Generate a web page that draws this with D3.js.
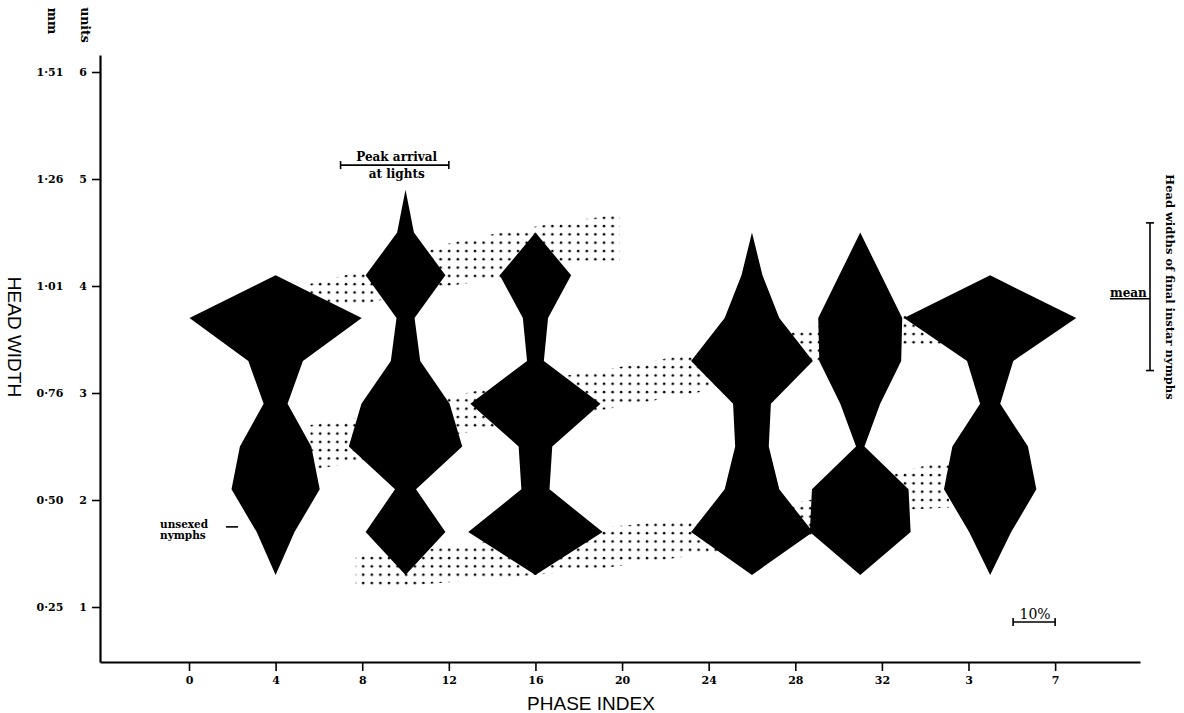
<!DOCTYPE html>
<html>
<head>
<meta charset="utf-8">
<script src="https://cdn.jsdelivr.net/npm/d3@7"></script>
<style>
  body { margin: 0; background: #fff; }
  svg { display: block; }
  .serif { font-family: "DejaVu Serif", serif; font-weight: bold; }
  .sans { font-family: "Liberation Sans", Arial, sans-serif; }
</style>
</head>
<body>
<script>
// head width classes (in units) used by every kite, bottom to top
const classUnits = [1.3, 1.7, 2.1, 2.5, 2.9, 3.3, 3.7, 4.1, 4.5, 4.9];

// phase index position of each sample (37 = phase 4 of the next cycle)
const kitePhases = [4, 10, 16, 26, 31, 37];

// % of sample in each class, null where the kite does not reach
const kite1 = [0, 9, 21, 17, 5.7, 13, 41, 0, null, null];
const kite2 = [0, 19, 5, 27, 21, 7, 4.3, 19, 4, 0];
const kite3 = [0, 32, 6.7, 8, 31, 4, 6, 17, 0, null];
const kite4 = [0, 29, 13, 8, 9, 29, 13, 5, 0, null];
const kite5 = [0, 24, 23, 2, 9.5, 19.5, 20, 10, 0, null];
const kite6 = [0, 10, 22, 18, 4.8, 11, 41, 0, null, null];
const kites = [kite1, kite2, kite3, kite4, kite5, kite6];

// stippled instar bands: [phase, lower unit, upper unit]
const bandUpper = [[5.6, 3.84, 4.02], [8.2, 3.84, 4.15], [11.6, 3.99, 4.38], [14.4, 4.07, 4.50], [17.0, 4.21, 4.59], [19.9, 4.22, 4.67]];
const bandMiddle = [[5.6, 2.28, 2.70], [7.9, 2.36, 2.77], [12.3, 2.61, 2.98], [15.3, 2.73, 3.10], [19.0, 2.84, 3.21], [23.6, 3.01, 3.38], [28.7, 3.26, 3.61], [33.1, 3.45, 3.76], [34.9, 3.45, 3.79]];
const bandLower = [[7.7, 1.16, 1.49], [10.7, 1.21, 1.53], [14.4, 1.27, 1.63], [19.0, 1.36, 1.74], [23.6, 1.49, 1.83], [28.7, 1.67, 2.00], [33.1, 1.91, 2.28], [35.1, 1.93, 2.37]];

// axes
const xTickPos = [0, 4, 8, 12, 16, 20, 24, 28, 32, 36, 40];
const xTickLabels = ["0", "4", "8", "12", "16", "20", "24", "28", "32", "3", "7"];
const yUnits = [1, 2, 3, 4, 5, 6];
const yMm = ["0·25", "0·50", "0·76", "1·01", "1·26", "1·51"];

// annotations
const peakArrival = [7, 12];
const peakLevel = 5.13;
const finalInstar = { lo: 3.21, mean: 3.90, hi: 4.59 };
const unsexedLevel = 1.73;
const scaleBarPct = 10;

const width = 1184, height = 713;

const svg = d3.select("body").append("svg")
    .attr("width", width)
    .attr("height", height);

const x = d3.scaleLinear().domain([-4.11, 43.92]).range([100, 1140]);
const y = d3.scaleLinear().domain([0.486, 6.159]).range([662, 55]);
const w = d3.scaleLinear().domain([0, 10]).range([0, 42]); // full kite width

// dot pattern for the bands
const pat = svg.append("defs").append("pattern")
    .attr("id", "dots")
    .attr("patternUnits", "userSpaceOnUse")
    .attr("width", 8.6)
    .attr("height", 8.3);
pat.append("circle").attr("cx", 2).attr("cy", 2).attr("r", 1.3).attr("fill", "#000");

const band = d3.area()
    .x(d => x(d[0]))
    .y0(d => y(d[1]))
    .y1(d => y(d[2]));

svg.append("g")
    .selectAll("path")
    .data([bandUpper, bandMiddle, bandLower])
    .enter().append("path")
    .attr("d", band)
    .attr("fill", "url(#dots)");

// kites
kites.forEach((k, i) => {
    const cx = x(kitePhases[i]);
    const pts = k.map((p, j) => ({ u: classUnits[j], p: p })).filter(d => d.p !== null);
    const area = d3.area()
        .y(d => y(d.u))
        .x0(d => cx - w(d.p) / 2)
        .x1(d => cx + w(d.p) / 2);
    svg.append("path")
        .attr("d", area(pts))
        .attr("fill", "#000");
});

// x axis
const xAxis = svg.append("g")
    .attr("transform", `translate(0,${y.range()[0]})`)
    .call(d3.axisBottom(x)
        .tickValues(xTickPos)
        .tickFormat((d, i) => xTickLabels[i])
        .tickSize(9)
        .tickSizeOuter(0)
        .tickPadding(5));

// y axis (units)
const yAxis = svg.append("g")
    .attr("transform", `translate(${x.range()[0]},0)`)
    .call(d3.axisLeft(y)
        .tickValues(yUnits)
        .tickFormat(d3.format("d"))
        .tickSize(8)
        .tickSizeOuter(0)
        .tickPadding(5));

[xAxis, yAxis].forEach(g => {
    g.select(".domain").attr("stroke-width", 2.2).attr("stroke", "#000");
    g.selectAll(".tick line").attr("stroke-width", 1.6).attr("stroke", "#000");
    g.selectAll(".tick text")
        .attr("class", "serif")
        .attr("font-size", 11)
        .attr("fill", "#000");
});

// mm labels
svg.append("g")
    .selectAll("text")
    .data(yUnits)
    .enter().append("text")
    .attr("class", "serif")
    .attr("x", 50)
    .attr("y", d => y(d))
    .attr("dy", "0.35em")
    .attr("text-anchor", "middle")
    .attr("font-size", 11)
    .text((d, i) => yMm[i]);

// column headers
[["mm", 52, 21], ["units", 85, 25]].forEach(([t, px, py]) => {
    svg.append("text")
        .attr("class", "serif")
        .attr("font-size", 12.5)
        .attr("text-anchor", "middle")
        .attr("transform", `translate(${px},${py}) rotate(90)`)
        .attr("dy", "0.35em")
        .text(t);
});

// axis titles
svg.append("text")
    .attr("class", "sans")
    .attr("font-size", 19)
    .attr("text-anchor", "middle")
    .attr("transform", `translate(15,337) rotate(90)`)
    .attr("dy", "0.35em")
    .text("HEAD WIDTH");

svg.append("text")
    .attr("class", "sans")
    .attr("font-size", 19)
    .attr("text-anchor", "middle")
    .attr("x", 591)
    .attr("y", 710)
    .text("PHASE INDEX");

// bar with end caps
function hbar(x0, x1, yy, cap) {
    svg.append("line").attr("x1", x0).attr("x2", x1).attr("y1", yy).attr("y2", yy)
        .attr("stroke", "#000").attr("stroke-width", 1.6);
    [x0, x1].forEach(xx => svg.append("line")
        .attr("x1", xx).attr("x2", xx).attr("y1", yy - cap).attr("y2", yy + cap)
        .attr("stroke", "#000").attr("stroke-width", 1.6));
}

// peak arrival
const pY = y(peakLevel);
const pMid = (x(peakArrival[0]) + x(peakArrival[1])) / 2 + 2;
hbar(x(peakArrival[0]), x(peakArrival[1]), pY, 4);
svg.append("text").attr("class", "serif").attr("font-size", 12)
    .attr("text-anchor", "middle")
    .attr("x", pMid).attr("y", pY - 4)
    .text("Peak arrival");
svg.append("text").attr("class", "serif").attr("font-size", 12)
    .attr("text-anchor", "middle")
    .attr("x", pMid).attr("y", pY + 13)
    .text("at lights");

// final instar range on the right
const fx = 1150;
svg.append("line").attr("x1", fx).attr("x2", fx)
    .attr("y1", y(finalInstar.hi)).attr("y2", y(finalInstar.lo))
    .attr("stroke", "#000").attr("stroke-width", 1.6);
[finalInstar.hi, finalInstar.lo].forEach(v => svg.append("line")
    .attr("x1", fx - 4).attr("x2", fx + 4).attr("y1", y(v)).attr("y2", y(v))
    .attr("stroke", "#000").attr("stroke-width", 1.6));
svg.append("line").attr("x1", 1110).attr("x2", fx)
    .attr("y1", y(finalInstar.mean) + 2).attr("y2", y(finalInstar.mean) + 2)
    .attr("stroke", "#000").attr("stroke-width", 1.4);
svg.append("text").attr("class", "serif").attr("font-size", 12)
    .attr("x", 1110).attr("y", y(finalInstar.mean))
    .text("mean");
svg.append("text").attr("class", "serif").attr("font-size", 11.5)
    .attr("text-anchor", "middle")
    .attr("transform", `translate(1170,287) rotate(90)`)
    .attr("dy", "0.35em")
    .text("Head widths of final instar nymphs");

// unsexed nymphs
const uY = y(unsexedLevel);
svg.append("text").attr("class", "serif").attr("font-size", 10.5)
    .attr("x", 160).attr("y", uY - 1).text("unsexed");
svg.append("text").attr("class", "serif").attr("font-size", 10.5)
    .attr("x", 160).attr("y", uY + 10).text("nymphs");
svg.append("line").attr("x1", 226).attr("x2", 238).attr("y1", uY - 2).attr("y2", uY - 2)
    .attr("stroke", "#000").attr("stroke-width", 1.6);

// 10% scale bar
const sx1 = x(40), sx0 = sx1 - w(scaleBarPct), sy = 622;
hbar(sx0, sx1, sy, 4);
svg.append("text").attr("font-family", "DejaVu Serif, serif").attr("font-size", 14)
    .attr("text-anchor", "middle")
    .attr("x", (sx0 + sx1) / 2 + 1).attr("y", sy - 3)
    .text("10%");
</script>
</body>
</html>
